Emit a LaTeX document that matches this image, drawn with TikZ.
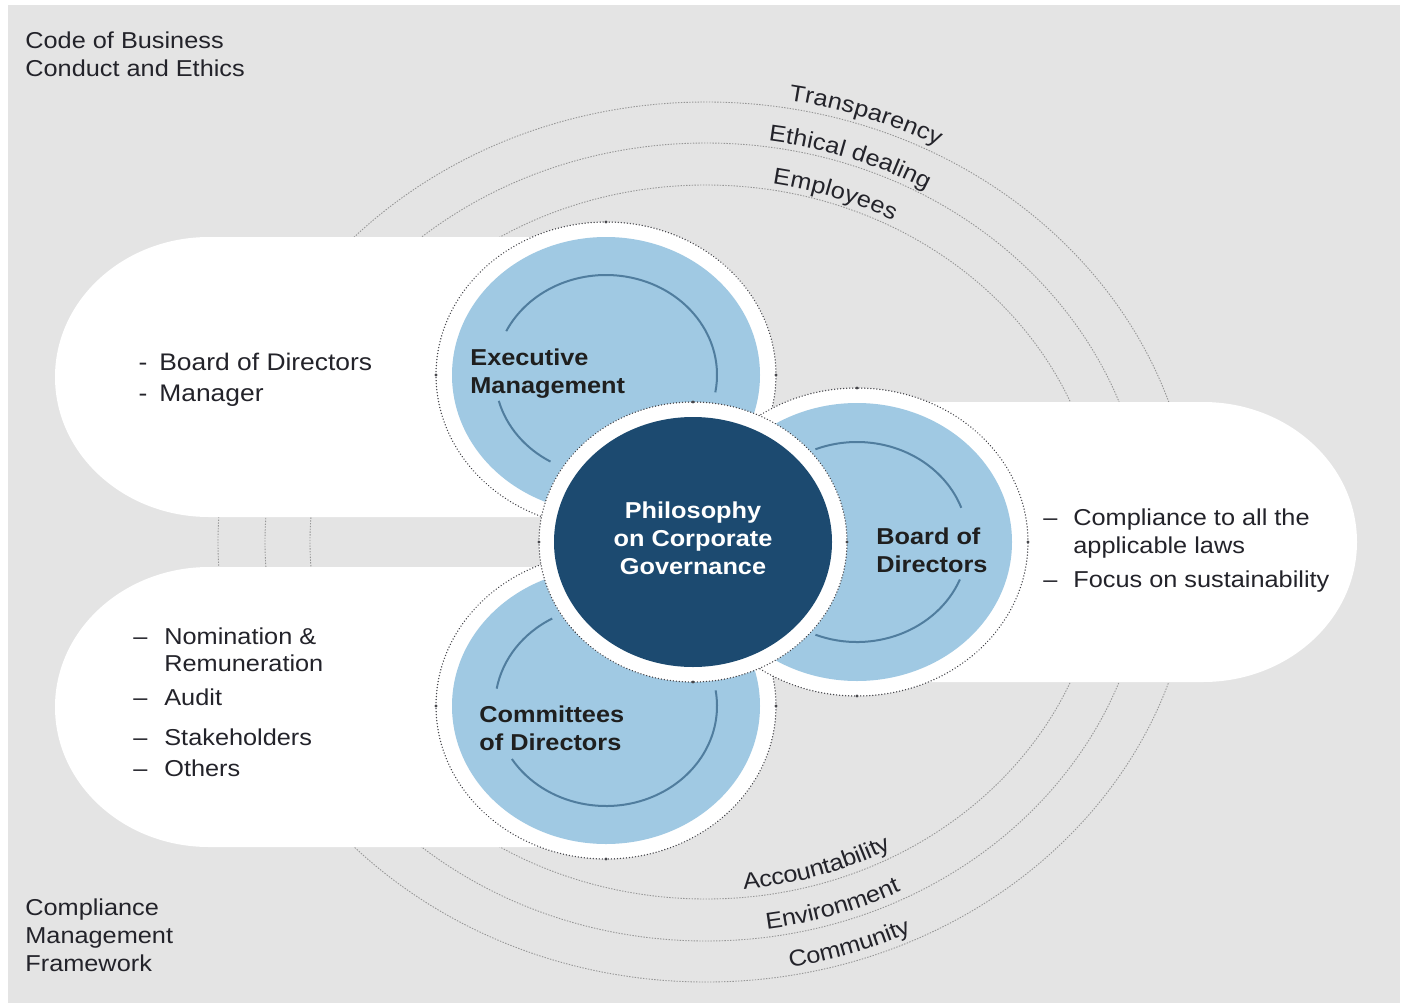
\documentclass[tikz,border=0pt]{standalone}
\usepackage{fontspec}
\setmainfont[FakeStretch=1.1]{Liberation Sans}
\usetikzlibrary{decorations.text}
\definecolor{bggray}{RGB}{228,228,228}
\definecolor{lightblue}{RGB}{160,201,227}
\definecolor{darkblue}{RGB}{28,74,112}
\definecolor{arcblue}{RGB}{80,125,158}
\definecolor{txt}{RGB}{35,35,42}
\definecolor{ringdot}{RGB}{70,70,75}
\definecolor{orbit}{RGB}{150,150,150}
\newcommand\fsz{\fontsize{11.5}{14}\selectfont}
\newcommand\fszb{\fontsize{12}{14}\selectfont}
\begin{document}
\begin{tikzpicture}[x=0.5pt,y=0.5pt,
  ring/.style={fill=white, draw=ringdot, line width=0.75pt, dash pattern=on 0.01pt off 1.5pt, line cap=round},
  disc/.style={fill=lightblue},
  core/.style={fill=darkblue},
  innerarc/.style={draw=arcblue, line width=1pt},
  orbitline/.style={draw=orbit, line width=0.45pt, dash pattern=on 0.7pt off 0.7pt},
  pill/.style={fill=white},
  cdot/.style={fill=ringdot},
  lbl/.style={font=\fsz, text=txt, inner sep=0pt},
  lblb/.style={font=\fszb, text=txt, inner sep=0pt},
  clbl/.style={font=\fsz\bfseries, text=black!88, inner sep=0pt, align=left},
]
\useasboundingbox (0,0) rectangle (1404,-1007);
\fill[white] (0,0) rectangle (1404,-1007);
\fill[bggray] (8,-5) rectangle (1400,-1003);

% orbits
\path[orbitline] (706,-542) ellipse[x radius=396, y radius=357];
\path[orbitline] (706,-542) ellipse[x radius=441, y radius=399];
\path[orbitline] (706,-542) ellipse[x radius=488, y radius=440];

% orbit labels
\path[decorate, decoration={text along path, raise=4pt, text color=txt, text={|\fsz|Transparency}}]
  (706,-542) ++(80.4:488 and 440) arc[start angle=80.4, end angle=40, x radius=488, y radius=440];
\path[decorate, decoration={text along path, raise=3pt, text color=txt, text={|\fsz|Ethical dealing}}]
  (706,-542) ++(82:441 and 399) arc[start angle=82, end angle=40, x radius=441, y radius=399];
\path[decorate, decoration={text along path, raise=3pt, text color=txt, text={|\fsz|Employees}}]
  (706,-542) ++(80.5:396 and 357) arc[start angle=80.5, end angle=40, x radius=396, y radius=357];
\path[decorate, decoration={text along path, raise=4pt, text color=txt, text={|\fsz|Accountability}}]
  (706,-542) ++(275.6:396 and 357) arc[start angle=275.6, end angle=320, x radius=396, y radius=357];
\path[decorate, decoration={text along path, raise=4pt, text color=txt, text={|\fsz|Environment}}]
  (706,-542) ++(278.1:441 and 399) arc[start angle=278.1, end angle=320, x radius=441, y radius=399];
\path[decorate, decoration={text along path, raise=4pt, text color=txt, text={|\fsz|Community}}]
  (706,-542) ++(280.1:488 and 440) arc[start angle=280.1, end angle=320, x radius=488, y radius=440];

% pills
\path[pill] (600,-237) -- (209,-237) arc[start angle=90, end angle=270, x radius=154, y radius=140] -- (600,-517) -- cycle;
\path[pill] (600,-567) -- (209,-567) arc[start angle=90, end angle=270, x radius=154, y radius=140] -- (600,-847) -- cycle;
\path[pill] (857,-402) -- (1203,-402) arc[start angle=90, end angle=-90, x radius=154, y radius=140] -- (857,-682) -- cycle;

% Executive Management
\path[ring] (606,-375) ellipse[x radius=170, y radius=153];
\path[disc] (606,-375) ellipse[x radius=154, y radius=138];
\draw[innerarc] (606,-375) ++(-10:111 and 100) arc[start angle=-10, end angle=154, x radius=111, y radius=100];
\draw[innerarc] (606,-375) ++(195:111 and 100) arc[start angle=195, end angle=240, x radius=111, y radius=100];
\foreach \p in {(436,-375),(776,-375),(606,-222)} \fill[cdot] \p circle[radius=1.7];

% Committees of Directors
\path[ring] (606,-706) ellipse[x radius=170, y radius=153];
\path[disc] (606,-706) ellipse[x radius=154, y radius=138];
\draw[innerarc] (606,-706) ++(119:111 and 100) arc[start angle=119, end angle=170, x radius=111, y radius=100];
\draw[innerarc] (606,-706) ++(212:111 and 100) arc[start angle=212, end angle=369, x radius=111, y radius=100];
\foreach \p in {(436,-706),(776,-706),(606,-859)} \fill[cdot] \p circle[radius=1.7];

% Board of Directors
\path[ring] (857,-542) ellipse[x radius=171, y radius=154];
\path[disc] (857,-542) ellipse[x radius=155, y radius=139];
\draw[innerarc] (857,-542) ++(20:111 and 100) arc[start angle=20, end angle=112, x radius=111, y radius=100];
\draw[innerarc] (857,-542) ++(248:111 and 100) arc[start angle=248, end angle=338, x radius=111, y radius=100];
\foreach \p in {(1028,-542),(857,-388),(857,-696)} \fill[cdot] \p circle[radius=1.7];

% centre
\path[ring] (693,-542) ellipse[x radius=154, y radius=140];
\path[core] (693,-542) ellipse[x radius=139, y radius=125];
\foreach \p in {(539,-542),(847,-542),(693,-402),(693,-682)} \fill[cdot] \p circle[radius=1.7];

% circle labels
\node[clbl, anchor=north west] (exec) at (470,-348) {Executive\\Management};
\node[clbl, anchor=north west] (board) at (876,-527) {Board of\\Directors};
\node[clbl, anchor=north west] (comm) at (479,-705) {Committees\\of Directors};
\node[clbl, align=center, text=white] (phil) at (693,-538) {Philosophy\\on Corporate\\Governance};

% corner texts
\node[lbl, anchor=north west, align=left] (code) at (25,-31) {Code of Business\\Conduct and Ethics};
\node[lbl, anchor=north west, align=left] (cmf) at (25,-898) {Compliance\\Management\\Framework};

% upper-left pill
\node[lblb, anchor=base west] (ul1) at (159,-370) {\llap{-\hspace{6pt}}Board of Directors};
\node[lblb, anchor=base west] (ul2) at (159,-401) {\llap{-\hspace{6pt}}Manager};

% lower-left pill
\node[lbl, anchor=base west] (ll1) at (164,-644) {\llap{–\hspace{8.5pt}}Nomination \&};
\node[lbl, anchor=base west] (ll1b) at (164,-671) {Remuneration};
\node[lbl, anchor=base west] (ll2) at (164,-705) {\llap{–\hspace{8.5pt}}Audit};
\node[lbl, anchor=base west] (ll3) at (164,-745) {\llap{–\hspace{8.5pt}}Stakeholders};
\node[lbl, anchor=base west] (ll4) at (164,-776) {\llap{–\hspace{8.5pt}}Others};

% right pill
\node[lbl, anchor=base west] (r1) at (1073,-525) {\llap{–\hspace{8pt}}Compliance to all the};
\node[lbl, anchor=base west] (r1b) at (1073,-553) {applicable laws};
\node[lbl, anchor=base west] (r2) at (1073,-587) {\llap{–\hspace{8pt}}Focus on sustainability};
\end{tikzpicture}
\end{document}
